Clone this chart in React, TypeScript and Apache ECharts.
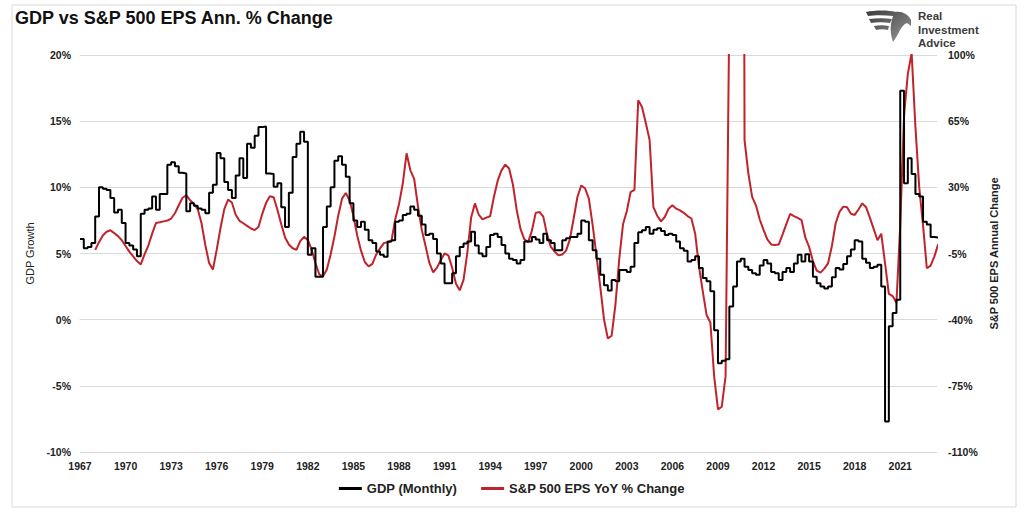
import React, { useEffect, useRef } from "react";
import * as echarts from "echarts";

// ---------------- Data ----------------
const TITLE = "GDP vs S&P 500 EPS Ann. % Change";
const GDP_NAME = "GDP (Monthly)";
const EPS_NAME = "S&P 500 EPS YoY % Change";
const LEFT_AXIS_NAME = "GDP Growth";
const RIGHT_AXIS_NAME = "S&P 500 EPS Annual Change";
const LOGO_LINES = ["Real", "Investment", "Advice"];

const X_MIN = 1967;
const X_MAX = 2023.42;
const X_INTERVAL = 3;

const GDP_MIN = -10;
const GDP_MAX = 20;
const GDP_INTERVAL = 5;

const EPS_MIN = -110;
const EPS_MAX = 100;
const EPS_INTERVAL = 35;

// quarterly readings (held for the quarter), starting 1967 Q1
const GDP_START = 1967;
const gdpValues = [
  6.1, 5.4, 5.5, 5.8,
  7.8, 10.0, 9.9, 9.8,
  9.2, 8.1, 8.3, 7.3,
  5.8, 5.6, 5.3, 4.8,
  8.0, 8.3, 8.4, 9.3,
  8.3, 9.5, 9.5, 11.7,
  11.9, 11.6, 11.1, 11.05,
  8.2, 8.8, 8.6, 8.4,
  8.3, 8.05, 9.6, 10.2,
  12.6, 12.2, 10.4, 9.8,
  9.2, 10.9, 12.2, 10.7,
  13.3, 13.0, 13.9, 14.55,
  14.6, 11.05, 11.0, 10.05,
  10.3, 8.5, 7.0, 9.6,
  12.3, 13.3, 14.2, 13.45,
  4.9, 5.4, 3.25, 3.25,
  7.0, 8.55, 10.0, 12.0,
  12.35, 11.7, 10.8, 8.8,
  7.5, 7.0, 7.4, 6.8,
  6.0, 5.8, 5.15, 4.9,
  4.75, 5.9, 6.0, 7.4,
  7.5, 7.9, 8.0, 8.55,
  8.3, 7.85, 7.2, 6.4,
  6.5, 6.1, 5.0, 4.25,
  2.75, 2.75, 3.5, 4.8,
  5.5, 5.75, 5.9, 6.65,
  5.6, 5.0, 4.8, 5.5,
  6.4, 6.5, 6.25, 5.65,
  5.0, 4.6, 4.5, 4.25,
  4.5, 5.9, 5.9, 6.25,
  6.05, 5.8, 6.5, 6.0,
  5.8, 5.25, 5.25, 6.0,
  6.15, 6.25, 6.25, 6.5,
  7.5, 7.4, 6.0, 5.25,
  4.6, 3.4, 2.6, 2.2,
  3.0, 2.9, 3.75, 3.75,
  3.6, 4.0, 5.8, 6.6,
  6.75, 7.0, 6.5, 6.8,
  6.9, 6.7, 6.4, 6.5,
  6.4, 5.9, 5.4, 5.2,
  4.4, 4.5, 4.8, 3.9,
  3.15, 2.9, 2.15, -0.8,
  -3.3, -3.1, -3.0, 1.0,
  2.5, 4.4, 4.6, 4.0,
  3.75, 3.5, 3.4, 4.1,
  4.5, 4.25, 3.6, 3.5,
  3.0, 3.6, 3.9, 3.6,
  4.25, 4.9, 4.4, 4.95,
  4.4, 3.25, 2.75, 2.5,
  2.35, 2.5, 3.2, 3.9,
  3.8, 4.2, 4.8, 5.3,
  6.0, 5.9, 4.6, 4.3,
  3.9, 4.0, 4.15, 2.5,
  -7.7, -0.5, 0.5, 1.5,
  17.3, 10.3, 12.2, 11.0,
  9.5, 9.3, 7.4, 7.2,
  6.25, 6.2, 6.2,
];

// quarterly readings, starting 1968 Q1
const EPS_START = 1968;
const epsValues = [
  -3.1, 1.0, 4.5, 6.5,
  7.3, 5.8, 4.2, 2.0,
  -1.0, -4.0, -6.5, -9.0,
  -10.8, -5.5, -0.8, 5.5,
  11.1, 11.5, 12.0, 12.4,
  13.5, 16.3, 20.5, 24.5,
  25.8, 23.2, 21.3, 18.5,
  11.0, -0.5, -10.0, -13.5,
  -3.0, 8.5, 18.5, 23.5,
  22.0, 15.5, 12.3, 11.0,
  9.6, 8.2, 7.4, 9.0,
  16.0, 21.8, 25.3, 24.8,
  18.0, 10.5, 3.5, -0.2,
  -2.2, -3.0, 1.5, 3.8,
  2.2, -3.0, -10.0, -16.0,
  -17.0, -13.5, -5.5, 4.0,
  15.0, 24.0, 27.0, 23.0,
  15.0, 4.5, -3.5, -9.5,
  -11.8, -10.5, -5.5, -2.3,
  0.5, 1.0, 1.5, 13.0,
  21.0, 32.0, 48.0, 39.0,
  34.5, 20.0, 7.5, -1.0,
  -10.0, -15.0, -12.5, -8.5,
  -5.0, -6.0, -12.5, -21.0,
  -24.5, -19.0, -4.5, 14.0,
  21.5, 15.5, 13.0, 14.0,
  14.7, 25.0, 33.5, 39.0,
  42.0, 40.0, 31.5, 18.0,
  8.0, 2.5, 1.0, 7.0,
  16.5, 17.0, 14.5, 5.0,
  -1.5, -4.0, -6.0, -5.5,
  -3.5, 2.5, 13.5, 25.0,
  31.0, 29.5, 24.0, 10.0,
  -6.0, -22.5, -40.0, -50.0,
  -48.5, -32.0, -8.0, 10.5,
  17.5, 27.5, 28.6, 76.0,
  72.5, 64.0, 55.0, 19.5,
  15.0, 12.0, 14.3, 18.7,
  20.5, 18.7, 17.8, 16.5,
  14.8, 13.5, 5.5, -12.0,
  -25.0, -37.5, -41.5, -70.0,
  -87.5, -86.0, -70.0, 125.0,
  600.0, 500.0, 900.0, 55.0,
  37.4, 25.0, 20.5, 13.0,
  7.5, 2.5, -0.2, -0.5,
  -0.3, 5.0, 10.5, 15.9,
  14.8, 13.8, 12.7, 3.5,
  -1.5, -9.0, -14.0, -15.1,
  -13.0, -10.2, -1.0, 11.0,
  17.0, 19.8, 19.5, 16.0,
  15.4, 18.3, 21.5, 19.5,
  14.0, 8.0, 2.0, 5.5,
  -10.2, -26.3, -27.5, -31.0,
  10.0, 68.0, 90.0, 101.0,
  62.0, 30.0, 10.0, -12.8,
  -11.4, -6.5, 0.0,
];

const QUARTER = 0.25;

// ---------------- Logo shape ----------------
const LOGO_PATH =
  "M0 2 C10 0 22 0 30 2 L27 6 C18 5 9 5 2 6 Z " +
  "M3 9 C11 8 19 8 26 9 L24 13 C17 12 11 12 5 13 Z " +
  "M8 16 C13 15 18 15 23 16 L22 20 C18 19 14 19 10 20 Z " +
  "M29 2 C36 1 42 4 45 10 L45 16 L41 13 C38 14 36 17 34 20 C32 24 30 28 27 32 C25 26 24 20 25 14 C26 9 27 5 29 2 Z";

let logoRegistered = false;
function ensureLogo() {
  if (logoRegistered) return;
  echarts.graphic.registerShape(
    "rialogo",
    echarts.graphic.extendPath(LOGO_PATH, {}) as any
  );
  logoRegistered = true;
}

const FONT = '"Liberation Sans", Arial, Helvetica, sans-serif';
const TEXT_COLOR = "#222";
const GRID_COLOR = "#d9d9d9";

export default function App() {
  const ref = useRef<HTMLDivElement>(null);

  useEffect(() => {
    if (!ref.current) return;
    ensureLogo();
    const chart = echarts.init(ref.current, undefined, { renderer: "svg" });

    const gdpData = gdpValues.map((v, i) => [GDP_START + i * QUARTER, v]);
    const epsData = epsValues.map((v, i) => [EPS_START + i * QUARTER, v]);

    const logoTexts = LOGO_LINES.map((t, i) => ({
      type: "text",
      x: 918,
      y: 10 + i * 13.5,
      style: {
        text: t,
        font: 'bold 11.5px "Liberation Sans", Arial, sans-serif',
        fill: "#3c3c3c",
        verticalAlign: "top",
      },
      silent: true,
    }));

    const option: any = {
      animation: false,
      backgroundColor: "#ffffff",
      textStyle: { fontFamily: FONT },
      title: {
        text: TITLE,
        left: 10,
        top: 4,
        textStyle: {
          fontFamily: FONT,
          fontSize: 18,
          fontWeight: "bold",
          color: "#111",
        },
      },
      legend: {
        bottom: 14,
        left: "center",
        itemGap: 24,
        itemWidth: 23,
        itemHeight: 3,
        icon: "rect",
        textStyle: {
          fontFamily: FONT,
          fontSize: 13,
          fontWeight: "bold",
          color: TEXT_COLOR,
        },
        data: [GDP_NAME, EPS_NAME],
      },
      grid: { left: 80, right: 87, top: 55, bottom: 62, containLabel: false },
      xAxis: {
        type: "value",
        min: X_MIN,
        max: X_MAX,
        interval: X_INTERVAL,
        axisLine: { show: true, lineStyle: { color: GRID_COLOR, width: 1 } },
        axisTick: { show: false },
        splitLine: { show: false },
        axisLabel: {
          margin: 8,
          fontFamily: FONT,
          fontSize: 10.5,
          fontWeight: "bold",
          color: TEXT_COLOR,
          formatter: (v: number) =>
            Math.abs(v - Math.round(v)) < 1e-6 && (Math.round(v) - X_MIN) % X_INTERVAL === 0
              ? String(Math.round(v))
              : "",
        },
      },
      yAxis: [
        {
          type: "value",
          min: GDP_MIN,
          max: GDP_MAX,
          interval: GDP_INTERVAL,
          position: "left",
          name: LEFT_AXIS_NAME,
          nameLocation: "middle",
          nameGap: 36,
          nameTextStyle: { fontFamily: FONT, fontSize: 11, color: TEXT_COLOR },
          axisLine: { show: false },
          axisTick: { show: false },
          splitLine: { show: true, lineStyle: { color: GRID_COLOR, width: 1 } },
          axisLabel: {
            margin: 9,
            fontFamily: FONT,
            fontSize: 10.5,
            fontWeight: "bold",
            color: TEXT_COLOR,
            formatter: "{value}%",
          },
        },
        {
          type: "value",
          min: EPS_MIN,
          max: EPS_MAX,
          interval: EPS_INTERVAL,
          position: "right",
          name: RIGHT_AXIS_NAME,
          nameLocation: "middle",
          nameGap: 48,
          nameTextStyle: {
            fontFamily: FONT,
            fontSize: 11,
            fontWeight: "bold",
            color: TEXT_COLOR,
          },
          axisLine: { show: false },
          axisTick: { show: false },
          splitLine: { show: false },
          axisLabel: {
            margin: 11,
            fontFamily: FONT,
            fontSize: 10.5,
            fontWeight: "bold",
            color: TEXT_COLOR,
            formatter: "{value}%",
          },
        },
      ],
      series: [
        {
          name: GDP_NAME,
          type: "line",
          yAxisIndex: 0,
          step: "end",
          showSymbol: false,
          clip: true,
          color: "#000000",
          lineStyle: { color: "#000000", width: 2 },
          data: gdpData,
          z: 3,
        },
        {
          name: EPS_NAME,
          type: "line",
          yAxisIndex: 1,
          showSymbol: false,
          clip: true,
          color: "#c0232b",
          lineStyle: { color: "#c0232b", width: 2 },
          data: epsData,
          z: 2,
        },
      ],
      graphic: [
        {
          type: "rect",
          shape: { x: 12, y: 5, width: 1004, height: 502 },
          style: { fill: "none", stroke: GRID_COLOR, lineWidth: 1 },
          silent: true,
          z: -1,
        },
        {
          type: "rialogo",
          x: 866,
          y: 10,
          scaleX: 1,
          scaleY: 1,
          style: {
            fill: new echarts.graphic.LinearGradient(0, 0, 1, 1, [
              { offset: 0, color: "#3a3a3a" },
              { offset: 1, color: "#9a9a9a" },
            ]),
          },
          silent: true,
        },
        ...logoTexts,
      ],
    };

    chart.setOption(option);
    return () => {
      chart.dispose();
    };
  }, []);

  return (
    <div
      ref={ref}
      style={{
        position: "fixed",
        left: 0,
        top: 0,
        width: 1024,
        height: 514,
        background: "#fff",
      }}
    />
  );
}
